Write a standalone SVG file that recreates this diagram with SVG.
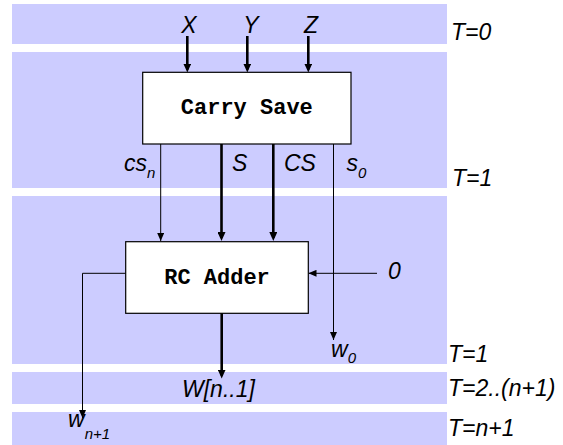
<svg xmlns="http://www.w3.org/2000/svg" width="563" height="445" viewBox="0 0 563 445">
<style>
.band{fill:#ccccff}
.lbl{font-family:"Liberation Sans",Arial,sans-serif;font-style:italic;font-size:23px;fill:#000}
.sub{font-size:15px}
.box{fill:#fff;stroke:#000;stroke-width:1.2}
.btxt{font-family:"Liberation Mono","Courier New",monospace;font-weight:bold;font-size:22px;fill:#000;text-anchor:middle}
.thin{stroke:#000;stroke-width:1;fill:none}
.thick{stroke:#000;stroke-width:2.6;fill:none}
</style>
<defs>
<marker id="ah" viewBox="0 0 8 7" refX="8" refY="3.5" markerWidth="8" markerHeight="7" markerUnits="userSpaceOnUse" orient="auto">
<path d="M0,0 L8,3.5 L0,7 z" fill="#000"/>
</marker>
<marker id="ahT" viewBox="0 0 9 8" refX="6" refY="4" markerWidth="9" markerHeight="8" markerUnits="userSpaceOnUse" orient="auto">
<path d="M0,0 L9,4 L0,8 z" fill="#000"/>
</marker>
</defs>
<g id="bands">
<rect class="band" x="12" y="4" width="435" height="40"/>
<rect class="band" x="12" y="52" width="435" height="136"/>
<rect class="band" x="12" y="196" width="435" height="168"/>
<rect class="band" x="12" y="372" width="435" height="32"/>
<rect class="band" x="12" y="412" width="435" height="33"/>
</g>
<g id="time-labels">
<text class="lbl" x="451" y="40">T=0</text>
<text class="lbl" x="452" y="186">T=1</text>
<text class="lbl" x="448" y="362">T=1</text>
<text class="lbl" x="448" y="396">T=2..(n+1)</text>
<text class="lbl" x="448" y="436">T=n+1</text>
</g>
<g id="connectors">
<line class="thick" x1="187.3" y1="36" x2="187.3" y2="69.5" marker-end="url(#ahT)"/>
<line class="thick" x1="247.3" y1="36" x2="247.3" y2="69.5" marker-end="url(#ahT)"/>
<line class="thick" x1="308.3" y1="36" x2="308.3" y2="69.5" marker-end="url(#ahT)"/>
<line class="thin" x1="160.7" y1="144" x2="160.7" y2="241" marker-end="url(#ah)"/>
<line class="thick" x1="221.5" y1="144" x2="221.5" y2="238" marker-end="url(#ahT)"/>
<line class="thick" x1="273.3" y1="144" x2="273.3" y2="238" marker-end="url(#ahT)"/>
<line class="thin" x1="333.5" y1="144" x2="333.5" y2="340" marker-end="url(#ah)"/>
<line class="thin" x1="377" y1="273.3" x2="308.5" y2="273.3" marker-end="url(#ah)"/>
<polyline class="thin" points="125.7,273.3 82.5,273.3 82.5,418" marker-end="url(#ah)"/>
<line class="thick" x1="221.7" y1="313" x2="221.7" y2="375.5" marker-end="url(#ahT)"/>
</g>
<g id="carry-save">
<rect class="box" x="142.7" y="72.3" width="208.3" height="71.7"/>
<text class="btxt" x="246.8" y="114.3">Carry Save</text>
</g>
<g id="rc-adder">
<rect class="box" x="125.7" y="241.7" width="182.6" height="71.6"/>
<text class="btxt" x="217" y="284.3">RC Adder</text>
</g>
<g id="signal-labels">
<text class="lbl" x="189" y="32.5" text-anchor="middle">X</text>
<text class="lbl" x="251" y="32.5" text-anchor="middle">Y</text>
<text class="lbl" x="311" y="32.5" text-anchor="middle">Z</text>
<text class="lbl" x="124" y="171">cs<tspan class="sub" dy="7">n</tspan></text>
<text class="lbl" x="232" y="171">S</text>
<text class="lbl" x="284" y="171">CS</text>
<text class="lbl" x="346.5" y="171">s<tspan class="sub" dy="7">0</tspan></text>
<text class="lbl" x="388" y="278.5">0</text>
<text class="lbl" x="331" y="356.5">w<tspan class="sub" dy="6">0</tspan></text>
<text class="lbl" x="182" y="397">W[n..1]</text>
<text class="lbl" x="68" y="427">w<tspan class="sub" dy="12">n+1</tspan></text>
</g>
</svg>
